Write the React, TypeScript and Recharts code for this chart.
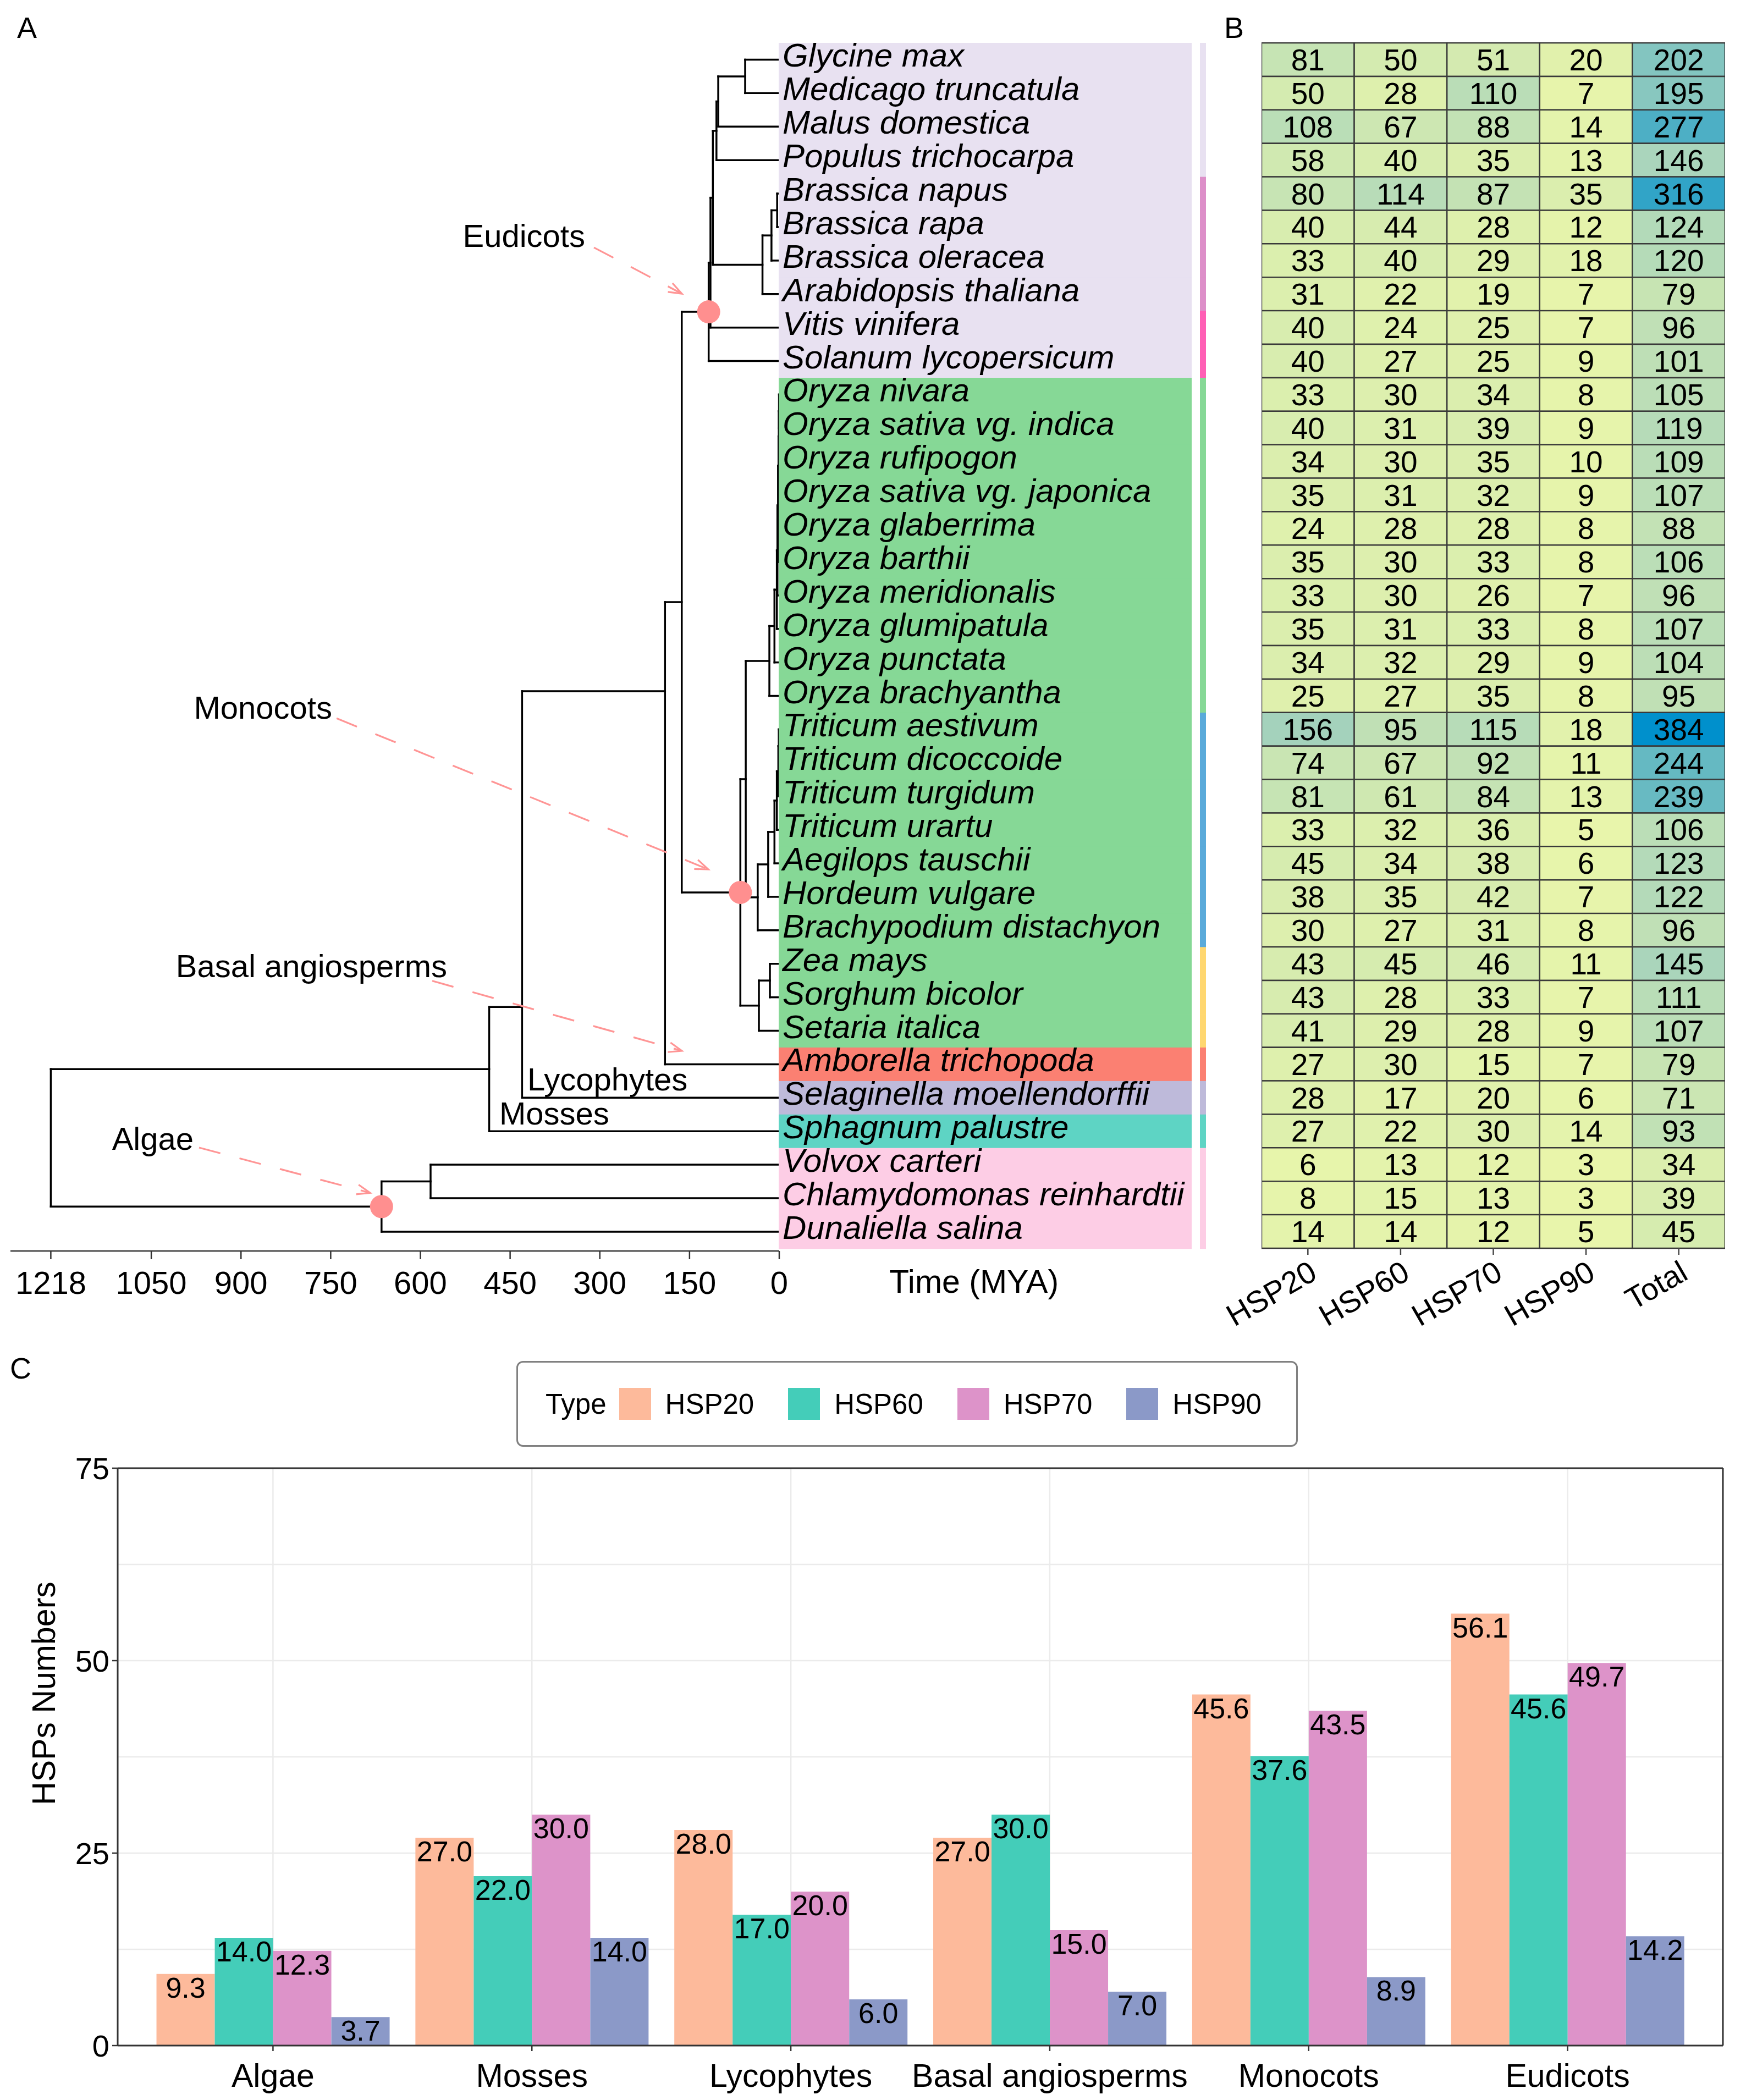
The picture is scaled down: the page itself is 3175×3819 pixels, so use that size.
import React from 'react';
import {
  ComposedChart, BarChart, Bar, XAxis, YAxis, ReferenceLine, Scatter, Cell,
  LabelList, CartesianGrid, Legend,
} from 'recharts';

const FONT = '"Liberation Sans", Arial, Helvetica, sans-serif';

// ===================== DATA =====================
const SPECIES = [
  'Glycine max', 'Medicago truncatula', 'Malus domestica', 'Populus trichocarpa',
  'Brassica napus', 'Brassica rapa', 'Brassica oleracea', 'Arabidopsis thaliana',
  'Vitis vinifera', 'Solanum lycopersicum',
  'Oryza nivara', 'Oryza sativa vg. indica', 'Oryza rufipogon', 'Oryza sativa vg. japonica',
  'Oryza glaberrima', 'Oryza barthii', 'Oryza meridionalis', 'Oryza glumipatula',
  'Oryza punctata', 'Oryza brachyantha',
  'Triticum aestivum', 'Triticum dicoccoide', 'Triticum turgidum', 'Triticum urartu',
  'Aegilops tauschii', 'Hordeum vulgare', 'Brachypodium distachyon',
  'Zea mays', 'Sorghum bicolor', 'Setaria italica',
  'Amborella trichopoda', 'Selaginella moellendorffii', 'Sphagnum palustre',
  'Volvox carteri', 'Chlamydomonas reinhardtii', 'Dunaliella salina',
];

const SPECIES_CLADE = [
  'eud', 'eud', 'eud', 'eud', 'eud', 'eud', 'eud', 'eud', 'eud', 'eud',
  'mono', 'mono', 'mono', 'mono', 'mono', 'mono', 'mono', 'mono', 'mono', 'mono',
  'mono', 'mono', 'mono', 'mono', 'mono', 'mono', 'mono', 'mono', 'mono', 'mono',
  'amb', 'lyc', 'moss', 'alg', 'alg', 'alg',
];

const SPECIES_FAMILY = [
  'rosid', 'rosid', 'rosid', 'rosid', 'brass', 'brass', 'brass', 'brass', 'aster', 'aster',
  'oryza', 'oryza', 'oryza', 'oryza', 'oryza', 'oryza', 'oryza', 'oryza', 'oryza', 'oryza',
  'pooid', 'pooid', 'pooid', 'pooid', 'pooid', 'pooid', 'pooid', 'pacmad', 'pacmad', 'pacmad',
  'amb', 'lyc', 'moss', 'alg', 'alg', 'alg',
];

// internal nodes: [id, parent, age (MYA)]
const INTERNAL_NODES: [string, string | null, number][] = [
  ['root', null, 1218], ['alg', 'root', 665], ['volchl', 'alg', 583],
  ['land', 'root', 485], ['vasc', 'land', 430], ['angio', 'vasc', 191],
  ['meso', 'angio', 163], ['eud', 'meso', 118], ['eud2', 'eud', 115],
  ['ros', 'eud2', 111], ['fab', 'ros', 105], ['fab2', 'fab', 102], ['gm', 'fab2', 57],
  ['bra', 'ros', 28], ['bra2', 'bra', 13], ['bnr', 'bra2', 3.5],
  ['poa', 'meso', 65], ['bep', 'poa', 56], ['ory', 'bep', 16.5], ['ory2', 'ory', 8],
  ['ory3', 'ory2', 4], ['ory4', 'ory3', 3], ['aa', 'ory4', 2], ['sat3', 'aa', 1.2],
  ['sat2', 'sat3', 0.8], ['sat1', 'sat2', 0.4], ['afr', 'aa', 0.6],
  ['poo', 'bep', 36], ['tri', 'poo', 18.5], ['ta', 'tri', 8], ['tr3', 'ta', 4],
  ['tr2', 'tr3', 1.5], ['tr1', 'tr2', 0.8],
  ['pac', 'poa', 34], ['zs', 'pac', 15.6],
];

const TIP_PARENT = [
  'gm', 'gm', 'fab2', 'fab', 'bnr', 'bnr', 'bra2', 'bra', 'eud2', 'eud',
  'sat1', 'sat1', 'sat2', 'sat3', 'afr', 'afr', 'ory4', 'ory3', 'ory2', 'ory',
  'tr1', 'tr1', 'tr2', 'tr3', 'ta', 'tri', 'poo',
  'zs', 'zs', 'pac',
  'angio', 'vasc', 'land', 'volchl', 'volchl', 'alg',
];

const NODE_ROW_READ: Record<string, number> = { angio: 19.86, vasc: 29.29 };
const MARKED_NODES = ['eud', 'poa', 'alg'];
const TIME_TICKS = [1218, 1050, 900, 750, 600, 450, 300, 150, 0];

const CLADE_NOTES = [
  { text: 'Eudicots', labelAge: 324.6, labelRow: 6.25, fromAge: 309.9, fromRow: 6.61, toAge: 162.8, toRow: 7.99 },
  { text: 'Monocots', labelAge: 747.6, labelRow: 20.34, fromAge: 740.2, fromRow: 20.67, toAge: 118.6, toRow: 25.18 },
  { text: 'Basal angiosperms', labelAge: 555.4, labelRow: 28.07, fromAge: 580.2, fromRow: 28.51, toAge: 162.8, toRow: 30.6 },
  { text: 'Algae', labelAge: 979.3, labelRow: 33.21, fromAge: 970.1, fromRow: 33.49, toAge: 684.1, toRow: 34.84 },
];
const BRANCH_NOTES = [
  { text: 'Lycophytes', age: 421.1, row: 31.44 },
  { text: 'Mosses', age: 468.0, row: 32.47 },
];

const HEAT_COLUMNS = ['HSP20', 'HSP60', 'HSP70', 'HSP90', 'Total'];
const HSP20 = [81, 50, 108, 58, 80, 40, 33, 31, 40, 40, 33, 40, 34, 35, 24, 35, 33, 35, 34, 25, 156, 74, 81, 33, 45, 38, 30, 43, 43, 41, 27, 28, 27, 6, 8, 14];
const HSP60 = [50, 28, 67, 40, 114, 44, 40, 22, 24, 27, 30, 31, 30, 31, 28, 30, 30, 31, 32, 27, 95, 67, 61, 32, 34, 35, 27, 45, 28, 29, 30, 17, 22, 13, 15, 14];
const HSP70 = [51, 110, 88, 35, 87, 28, 29, 19, 25, 25, 34, 39, 35, 32, 28, 33, 26, 33, 29, 35, 115, 92, 84, 36, 38, 42, 31, 46, 33, 28, 15, 20, 30, 12, 13, 12];
const HSP90 = [20, 7, 14, 13, 35, 12, 18, 7, 7, 9, 8, 9, 10, 9, 8, 8, 7, 8, 9, 8, 18, 11, 13, 5, 6, 7, 8, 11, 7, 9, 7, 6, 14, 3, 3, 5];
const TOTAL = [202, 195, 277, 146, 316, 124, 120, 79, 96, 101, 105, 119, 109, 107, 88, 106, 96, 107, 104, 95, 384, 244, 239, 106, 123, 122, 96, 145, 111, 107, 79, 71, 93, 34, 39, 45];

const GROUPS = ['Algae', 'Mosses', 'Lycophytes', 'Basal angiosperms', 'Monocots', 'Eudicots'];
const MEAN_HSP20 = [9.3, 27.0, 28.0, 27.0, 45.6, 56.1];
const MEAN_HSP60 = [14.0, 22.0, 17.0, 30.0, 37.6, 45.6];
const MEAN_HSP70 = [12.3, 30.0, 20.0, 15.0, 43.5, 49.7];
const MEAN_HSP90 = [3.7, 14.0, 6.0, 7.0, 8.9, 14.2];
const BAR_Y_TICKS = [0, 25, 50, 75];
const BAR_MINOR = [12.5, 25, 37.5, 50, 62.5];

// ===================== STYLE =====================
const CLADE_COLOR: Record<string, string> = {
  eud: '#E8E1F1', mono: '#86D896', amb: '#FB8072', lyc: '#BEBADA', moss: '#5ED4C4', alg: '#FDCDE5',
};
const FAMILY_COLOR: Record<string, string> = {
  rosid: '#E8E1F1', brass: '#DD8FC9', aster: '#FF5FB5', oryza: '#86D896', pooid: '#5AAADA',
  pacmad: '#FFD770', amb: '#FB8072', lyc: '#BEBADA', moss: '#5ED4C4', alg: '#FDCDE5',
};
const BAR_COLORS = ['#FDBA9B', '#44CDB9', '#DD93C9', '#8B99C8'];
const ARROW = '#FF9595';
const DOT = '#FF8F8F';

const TREE_TOP = 78;
const TREE_PLOT_H = 2197;
const ROW_MIN = 0.5;
const ROW_MAX = 36.576;
const ROW_H = TREE_PLOT_H / (ROW_MAX - ROW_MIN);

function heatColor(v: number): string {
  const stops: [number, number[]][] = [[0, [234, 246, 170]], [150, [168, 212, 188]], [384, [0, 144, 204]]];
  let i = 0;
  while (i < stops.length - 2 && v > stops[i + 1][0]) i++;
  const [a, ca] = stops[i];
  const [b, cb] = stops[i + 1];
  const t = Math.max(0, Math.min(1, (v - a) / (b - a)));
  const c = ca.map((x, k) => Math.round(x + (cb[k] - x) * t));
  return `rgb(${c[0]},${c[1]},${c[2]})`;
}

// ===================== TREE LAYOUT =====================
type Kid = { tip: boolean; id: string | number };
const childrenOf: Record<string, Kid[]> = {};
INTERNAL_NODES.forEach(([id, parent]) => {
  if (parent) (childrenOf[parent] = childrenOf[parent] || []).push({ tip: false, id });
});
TIP_PARENT.forEach((p, i) => (childrenOf[p] = childrenOf[p] || []).push({ tip: true, id: i }));
const nodeAge: Record<string, number> = {};
INTERNAL_NODES.forEach(([id, , age]) => { nodeAge[id] = age; });

const rowMemo: Record<string, number> = {};
function nodeRow(id: string): number {
  if (rowMemo[id] !== undefined) return rowMemo[id];
  const kids = childrenOf[id];
  const mean = kids.map(kidRow).reduce((s, r) => s + r, 0) / kids.length;
  const r = NODE_ROW_READ[id] !== undefined ? NODE_ROW_READ[id] : mean;
  rowMemo[id] = r;
  return r;
}
function kidRow(k: Kid): number { return k.tip ? (k.id as number) + 1 : nodeRow(k.id as string); }
function kidAge(k: Kid): number { return k.tip ? 0 : nodeAge[k.id as string]; }

const SEGMENTS: { x: number; y: number }[][] = [];
INTERNAL_NODES.forEach(([id]) => {
  const age = nodeAge[id];
  const kids = childrenOf[id];
  const rows = kids.map(kidRow).concat([nodeRow(id)]);
  SEGMENTS.push([{ x: age, y: Math.min(...rows) }, { x: age, y: Math.max(...rows) }]);
  kids.forEach((k) => SEGMENTS.push([{ x: age, y: kidRow(k) }, { x: kidAge(k), y: kidRow(k) }]));
});

const markedData = MARKED_NODES.map((id) => ({ age: nodeAge[id], row: nodeRow(id) }));
const noteLabelData = CLADE_NOTES.map((n) => ({ age: n.labelAge, row: n.labelRow, text: n.text, anchor: 'end' }))
  .concat(BRANCH_NOTES.map((n) => ({ age: n.age, row: n.row, text: n.text, anchor: 'start' })));

// ===================== TABLES FOR CHARTS =====================
const heatRows = SPECIES.map((s, i) => ({
  species: s, h20: HSP20[i], h60: HSP60[i], h70: HSP70[i], h90: HSP90[i], hT: TOTAL[i],
  u20: 1, u60: 1, u70: 1, u90: 1, uT: 1,
}));
const HEAT_SERIES = [
  { unit: 'u20', key: 'h20' }, { unit: 'u60', key: 'h60' }, { unit: 'u70', key: 'h70' },
  { unit: 'u90', key: 'h90' }, { unit: 'uT', key: 'hT' },
];
const barRows = GROUPS.map((g, i) => ({
  group: g, HSP20: MEAN_HSP20[i], HSP60: MEAN_HSP60[i], HSP70: MEAN_HSP70[i], HSP90: MEAN_HSP90[i],
}));
const BAR_KEYS = ['HSP20', 'HSP60', 'HSP70', 'HSP90'];

// ===================== RENDER HELPERS =====================
const SpeciesTick = (p: any) => {
  const { x, y, payload } = p;
  const i = Math.round(payload.value) - 1;
  if (i < 0 || i >= SPECIES.length) return null;
  return (
    <g>
      <rect x={x - 1} y={y - ROW_H / 2} width={751} height={ROW_H + 0.8} fill={CLADE_COLOR[SPECIES_CLADE[i]]} />
      <rect x={x + 765} y={y - ROW_H / 2} width={11} height={ROW_H + 0.8} fill={FAMILY_COLOR[SPECIES_FAMILY[i]]} />
      <text x={x + 6} y={y + 13} fontSize={60} fontStyle="italic" fill="#000" fontFamily={FONT}>{SPECIES[i]}</text>
    </g>
  );
};

const arrowShape = (p: any) => {
  const { x1, y1, x2, y2 } = p;
  const dx = x2 - x1;
  const dy = y2 - y1;
  const len = Math.hypot(dx, dy) || 1;
  const ux = dx / len;
  const uy = dy / len;
  const L = 24;
  const W = 9;
  const bx = x2 - ux * L;
  const by = y2 - uy * L;
  return (
    <g>
      <line x1={x1} y1={y1} x2={x2 - ux * 4} y2={y2 - uy * 4} stroke={ARROW} strokeWidth={3.2} strokeDasharray="40 36" />
      <polyline
        points={`${bx - uy * W},${by + ux * W} ${x2},${y2} ${bx + uy * W},${by - ux * W}`}
        fill="none" stroke={ARROW} strokeWidth={3.2}
      />
    </g>
  );
};

const nodeDot = (p: any) => <circle cx={p.cx} cy={p.cy} r={21} fill={DOT} />;
const noteText = (p: any) => (
  <text x={p.cx} y={p.cy} textAnchor={p.payload.anchor} dominantBaseline="central" fontSize={58} fill="#000" fontFamily={FONT}>
    {p.payload.text}
  </text>
);

const renderLegend = (props: any) => (
  <div
    style={{
      boxSizing: 'border-box', width: 1421, height: 156, border: '3px solid #808080', borderRadius: 12,
      display: 'flex', alignItems: 'center', paddingLeft: 50, fontSize: 51, color: '#000',
      fontFamily: FONT, background: '#fff', whiteSpace: 'nowrap',
    }}
  >
    <span style={{ marginRight: 23 }}>Type</span>
    {(props.payload || []).map((e: any, i: number) => (
      <span key={i} style={{ display: 'flex', alignItems: 'center', marginRight: 62 }}>
        <span style={{ width: 58, height: 58, background: e.color, marginRight: 26, display: 'inline-block' }} />
        <span>{e.value}</span>
      </span>
    ))}
  </div>
);

const yTitle = (p: any) => {
  const vb = p.viewBox || { x: 0, y: 0, width: 0, height: 0 };
  const cx = vb.x + 80;
  const cy = vb.y + vb.height * 0.39;
  return (
    <text x={cx} y={cy} transform={`rotate(-90, ${cx}, ${cy})`} textAnchor="middle" dominantBaseline="central" fontSize={59} fill="#000" fontFamily={FONT}>
      HSPs Numbers
    </text>
  );
};

// ===================== APP =====================
export default function App() {
  return (
    <div style={{ position: 'absolute', left: 0, top: 0, width: 3175, height: 3819, background: '#fff', fontFamily: FONT, overflow: 'hidden' }}>
      {/* Panel A: tree */}
      <div style={{ position: 'absolute', left: 0, top: 0 }}>
        <ComposedChart width={2220} height={2400} margin={{ top: TREE_TOP, left: 19, right: 3, bottom: 15 }}>
          <XAxis
            type="number" dataKey="age" domain={[0, 1285.5]} reversed allowDataOverflow ticks={TIME_TICKS} interval={0}
            tick={{ fill: '#000', fontSize: 58 }} tickSize={15} tickMargin={22} height={110}
            axisLine={{ stroke: '#333', strokeWidth: 2.5 }} tickLine={{ stroke: '#333', strokeWidth: 2.5 }}
            label={{ value: 'Time (MYA)', position: 'right', offset: 200, fill: '#000', fontSize: 59 }}
          />
          <YAxis
            type="number" dataKey="row" orientation="right" domain={[ROW_MIN, ROW_MAX]} reversed allowDataOverflow
            ticks={SPECIES.map((_, i) => i + 1)} interval={0} tick={SpeciesTick}
            tickLine={false} axisLine={false} width={800} tickSize={0} tickMargin={0}
          />
          {SEGMENTS.map((s, i) => (
            <ReferenceLine key={`s${i}`} segment={s} stroke="#000" strokeWidth={3.5} strokeLinecap="square" ifOverflow="visible" />
          ))}
          {CLADE_NOTES.map((n, i) => (
            <ReferenceLine
              key={`a${i}`}
              segment={[{ x: n.fromAge, y: n.fromRow }, { x: n.toAge, y: n.toRow }]}
              ifOverflow="visible"
              shape={arrowShape}
            />
          ))}
          <Scatter data={markedData} shape={nodeDot} isAnimationActive={false} />
          <Scatter data={noteLabelData} shape={noteText} isAnimationActive={false} />
        </ComposedChart>
      </div>

      {/* Panel B: heatmap */}
      <div style={{ position: 'absolute', left: 2200, top: 0 }}>
        <BarChart
          width={975} height={2480} layout="vertical" data={heatRows}
          margin={{ top: 78, left: 94, right: 38, bottom: 10 }} barCategoryGap={0} barGap={0}
        >
          <YAxis type="category" dataKey="species" hide />
          <XAxis
            type="number" domain={[0, 5]} allowDataOverflow ticks={[0.5, 1.5, 2.5, 3.5, 4.5]} interval={0}
            tickFormatter={(v: number) => HEAT_COLUMNS[Math.floor(v)]}
            angle={-30} textAnchor="end" height={200} axisLine={false}
            tick={{ fill: '#000', fontSize: 56 }} tickSize={12} tickMargin={8}
            tickLine={{ stroke: '#444', strokeWidth: 2.5 }}
          />
          {HEAT_SERIES.map((s) => (
            <Bar key={s.unit} dataKey={s.unit} stackId="h" stroke="#3a3a3a" strokeWidth={2.5} isAnimationActive={false}>
              {heatRows.map((r: any, i) => <Cell key={i} fill={heatColor(r[s.key])} />)}
              <LabelList dataKey={s.key} position="center" fill="#000" fontSize={55} />
            </Bar>
          ))}
        </BarChart>
      </div>

      {/* Panel C: bars */}
      <div style={{ position: 'absolute', left: 0, top: 2380 }}>
        <BarChart
          width={3175} height={1439} data={barRows}
          margin={{ top: 289, left: 0, right: 41, bottom: 9 }} barCategoryGap="5%" barGap={0}
        >
          <CartesianGrid stroke="#EBEBEB" strokeWidth={2.5} horizontalValues={BAR_MINOR} />
          <XAxis
            dataKey="group" padding={{ left: 47, right: 47 }} height={90}
            tick={{ fill: '#000', fontSize: 59 }} tickSize={10} tickMargin={23}
            axisLine={{ stroke: '#333', strokeWidth: 3 }} tickLine={{ stroke: '#333', strokeWidth: 2.5 }}
          />
          <YAxis
            domain={[0, 75]} ticks={BAR_Y_TICKS} interval={0} width={214}
            tick={{ fill: '#000', fontSize: 56 }} tickSize={10} tickMargin={5}
            axisLine={{ stroke: '#333', strokeWidth: 3 }} tickLine={{ stroke: '#333', strokeWidth: 2.5 }}
            label={{ value: 'HSPs Numbers', content: yTitle }}
          />
          <XAxis
            xAxisId="top" orientation="top" dataKey="group" height={1} tick={false} tickLine={false}
            axisLine={{ stroke: '#333', strokeWidth: 3 }}
          />
          <YAxis
            yAxisId="right" orientation="right" width={1} domain={[0, 75]} tick={false} tickLine={false}
            axisLine={{ stroke: '#333', strokeWidth: 3 }}
          />
          {BAR_KEYS.map((k, i) => (
            <Bar key={k} dataKey={k} name={k} fill={BAR_COLORS[i]} isAnimationActive={false}>
              <LabelList dataKey={k} position="insideTop" offset={6} fill="#000" fontSize={52}
                formatter={(v: any) => Number(v).toFixed(1)} />
            </Bar>
          ))}
          <Legend
            layout="horizontal" align="center" verticalAlign="middle" content={renderLegend}
            wrapperStyle={{ left: 939, top: 95, width: 1421, height: 156 }}
          />
        </BarChart>
      </div>

      {/* Panel letters */}
      <svg width={3175} height={3819} style={{ position: 'absolute', left: 0, top: 0, pointerEvents: 'none' }}>
        <text x={31} y={69} fontSize={54} fill="#000" fontFamily={FONT}>A</text>
        <text x={2226} y={69} fontSize={54} fill="#000" fontFamily={FONT}>B</text>
        <text x={18} y={2507} fontSize={54} fill="#000" fontFamily={FONT}>C</text>
      </svg>
    </div>
  );
}
